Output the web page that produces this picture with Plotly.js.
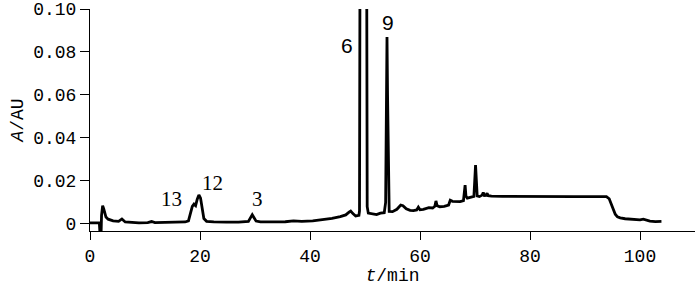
<!DOCTYPE html>
<html>
<head>
<meta charset="utf-8">
<script src="https://cdn.plot.ly/plotly-3.0.1.min.js"></script>
<style>html,body{margin:0;padding:0;background:#fff;}#chart{width:700px;height:286px;}</style>
</head>
<body>
<div id="chart"></div>
<script>
// Retention time (min)
const retentionTime = [
  0, 1.0, 1.7, 1.85, 2.0, 2.1, 2.3, 2.5, 2.7, 2.9, 3.3, 4.2, 5.2, 5.8, 6.4, 7.5, 8.9, 10.5, 11.2, 11.8,
  13.5, 15.6, 17.3, 17.9, 18.3, 18.6, 18.9, 19.2, 19.5, 19.8, 20.1, 20.4, 20.7, 21.2, 22.5, 24.8, 27.0,
  28.8, 29.2, 29.5, 29.8, 30.2, 31.0, 33.5, 35.5, 37.0, 38.5, 40.5, 42.5, 44.0, 45.5, 46.5, 47.1, 47.4,
  47.8, 48.3, 48.9, 49.0, 49.15, 49.5, 49.9, 50.2, 50.4, 50.6, 51.2, 52.1, 52.8, 53.5, 53.75, 53.9, 54.0,
  54.1, 54.25, 54.4, 55.0, 55.8, 56.5, 56.9, 57.5, 58.2, 58.8, 59.4, 59.7, 60.0, 60.6, 61.2, 61.6, 62.3,
  62.7, 62.9, 63.1, 63.6, 64.4, 65.2, 65.5, 65.9, 66.6, 67.3, 67.9, 68.05, 68.2, 68.35, 68.6, 69.3, 69.8,
  69.95, 70.1, 70.25, 70.4, 70.8, 71.3, 71.5, 71.7, 72.0, 72.2, 72.4, 73.0, 75.0, 78.0, 80.0, 84.0, 88.0,
  91.0, 93.9, 94.4, 94.8, 95.1, 95.5, 95.9, 96.4, 97.3, 98.2, 99.2, 100.0, 100.6, 101.1, 101.8, 102.8, 103.9
];
// Absorbance (AU)
const absorbance = [
  0.0005, 0.0005, 0.0005, -0.006, -0.006, 0.004, 0.0085, 0.007, 0.005, 0.0032, 0.0022, 0.0014, 0.0012, 0.0023, 0.0009, 0.0007, 0.0005, 0.0006, 0.0011, 0.0006,
  0.0007, 0.0008, 0.0009, 0.0014, 0.005, 0.0082, 0.0092, 0.0085, 0.0115, 0.0135, 0.012, 0.0065, 0.0025, 0.0012, 0.0009, 0.0008, 0.0008,
  0.0012, 0.003, 0.0043, 0.003, 0.0013, 0.0009, 0.0009, 0.001, 0.0014, 0.0012, 0.0014, 0.002, 0.0026, 0.0034, 0.0042, 0.0055, 0.006,
  0.0048, 0.0037, 0.004, 0.006, 0.2, 0.45, 0.45, 0.25, 0.008, 0.005, 0.0047, 0.0043, 0.005, 0.0052, 0.01, 0.06, 0.087,
  0.06, 0.012, 0.0058, 0.0057, 0.0068, 0.0088, 0.0085, 0.007, 0.0063, 0.0062, 0.0065, 0.0078, 0.0066, 0.0068, 0.0072, 0.0076, 0.0074,
  0.0082, 0.0107, 0.0085, 0.008, 0.0082, 0.0088, 0.011, 0.0105, 0.0104, 0.0104, 0.0108, 0.015, 0.018, 0.013, 0.012, 0.0125, 0.0128,
  0.02, 0.0274, 0.02, 0.013, 0.0127, 0.0134, 0.0146, 0.0132, 0.0133, 0.0143, 0.0131, 0.0129, 0.0128, 0.0127, 0.0127, 0.0127, 0.0127,
  0.0127, 0.0127, 0.0117, 0.009, 0.0065, 0.0045, 0.0033, 0.0028, 0.0024, 0.0022, 0.002, 0.0019, 0.0022, 0.0017, 0.0013, 0.0011, 0.0012
];
// Axis ticks
const xTickVals = [0, 20, 40, 60, 80, 100];
const yTickVals = [0, 0.02, 0.04, 0.06, 0.08, 0.10];
const yTickText = ["0", "0.02", "0.04", "0.06", "0.08", "0.10"];
// Peak labels
const peakNames = ["13", "12", "3", "6", "9"];
const peakLabelTime = [14.9, 22.2, 30.5, 46.7, 54.1];
const peakLabelAbs = [0.0118, 0.0189, 0.0116, 0.083, 0.0935];

const peakFonts = ["Liberation Serif", "Liberation Serif", "Liberation Serif", "Liberation Sans", "Liberation Sans"];

const annotations = peakNames.map((n, i) => ({
  x: peakLabelTime[i], y: peakLabelAbs[i], xref: 'x', yref: 'y',
  text: n, showarrow: false, xanchor: 'center', yanchor: 'middle',
  font: {family: peakFonts[i], size: 21, color: '#000'}
}));

const trace = {
  x: retentionTime, y: absorbance, type: 'scatter', mode: 'lines',
  line: {color: '#000', width: 2.8, shape: 'linear'},
  hoverinfo: 'skip'
};

const tickFont = {family: 'Liberation Mono', size: 18, color: '#000'};

const layout = {
  width: 700, height: 286,
  margin: {l: 90, r: 5, t: 9, b: 55, pad: 0},
  paper_bgcolor: '#fff', plot_bgcolor: '#fff',
  showlegend: false,
  font: {family: 'Liberation Mono', size: 18, color: '#000'},
  xaxis: {
    range: [0, 110], tickvals: xTickVals, ticks: 'outside', ticklen: 8, tickwidth: 1, tickcolor: '#000',
    showline: true, linecolor: '#000', linewidth: 1, showgrid: false, zeroline: false,
    tickfont: tickFont,
    title: {text: '<i>t</i>/min', font: {family: 'Liberation Mono', size: 18, color: '#000'}, standoff: 6}
  },
  yaxis: {
    range: [-0.0033, 0.10], tickvals: yTickVals, ticktext: yTickText, ticks: 'outside', ticklen: 9, tickwidth: 1, tickcolor: '#000',
    showline: true, linecolor: '#000', linewidth: 1, showgrid: false, zeroline: false,
    tickfont: tickFont,
    title: {text: '<i>A</i>/AU', font: {family: 'Liberation Mono', size: 18, color: '#000'}, standoff: 4}
  },
  annotations: annotations
};

Plotly.newPlot('chart', [trace], layout, {staticPlot: true, displayModeBar: false});
</script>
</body>
</html>
